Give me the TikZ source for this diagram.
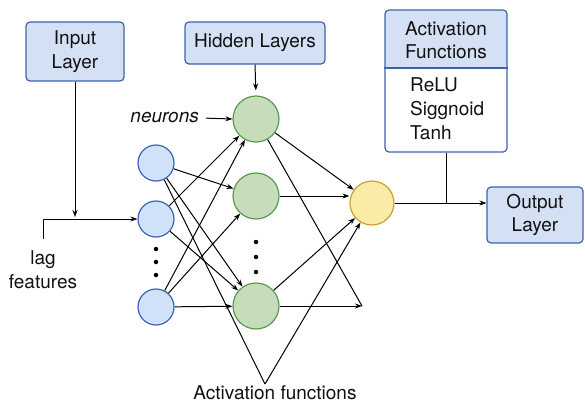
\documentclass[tikz,border=0pt]{standalone}
\usepackage{fontspec}
\setmainfont{TeX Gyre Heros}
\usetikzlibrary{arrows.meta,calc}
\definecolor{boxfill}{HTML}{D4E1F5}
\definecolor{boxline}{HTML}{3D63B0}
\definecolor{infill}{HTML}{CFE2F7}
\definecolor{inline}{HTML}{3A64B8}
\definecolor{hidfill}{HTML}{C6DDBC}
\definecolor{hidline}{HTML}{5B9950}
\definecolor{outfill}{HTML}{FAEBA6}
\definecolor{outline}{HTML}{CF9F2E}
\definecolor{txt}{HTML}{111111}
\begin{document}
\begin{tikzpicture}[x=1pt,y=-1pt,
  every node/.style={text=txt},
  font=\fontsize{19}{23.5}\selectfont,
  lbox/.style={draw=boxline, fill=boxfill, rounded corners=4pt, line width=1.2pt, align=center, inner sep=0pt},
  inneuron/.style={circle, draw=inline, fill=infill, line width=1.2pt, minimum size=36pt, inner sep=0pt},
  hidneuron/.style={circle, draw=hidline, fill=hidfill, line width=1.2pt, minimum size=46pt, inner sep=0pt},
  outneuron/.style={circle, draw=outline, fill=outfill, line width=1.2pt, minimum size=44pt, inner sep=0pt},
  conn/.style={line width=1pt, draw=black},
  arr/.style={conn, -{Stealth[length=7pt,width=5pt]}},
  vdot/.style={circle, fill=black, minimum size=4.5pt, inner sep=0pt}
]
\useasboundingbox (0,0) rectangle (585,404);

% boxes
\node[lbox, minimum width=98pt, minimum height=59pt] (inbox) at (75,51.5) {Input\\Layer};
\node[lbox, minimum width=140pt, minimum height=42pt] (hidbox) at (255,43) {Hidden Layers};
\node[lbox, minimum width=96pt, minimum height=56pt] (outbox) at (535,215) {Output\\Layer};

% activation functions box
\begin{scope}
  \clip (385,10) rectangle (507,68);
  \fill[boxfill, rounded corners=4pt] (385,10) rectangle (507,152);
\end{scope}
\node[draw=boxline, line width=1.2pt, rounded corners=4pt, minimum width=122pt, minimum height=142pt, inner sep=0pt] (act) at (446,81) {};
\draw[boxline, line width=1.2pt] (act.west |- 0,68) -- (act.east |- 0,68);
\node[align=center, inner sep=0pt] (acttitle) at (446,40) {Activation\\Functions};
\node[align=left, anchor=west, inner sep=0pt, font=\fontsize{19}{24}\selectfont] (actlist) at (410,109) {ReLU\\Siggnoid\\Tanh};

% neurons
\node[inneuron] (I1) at (156,163) {};
\node[inneuron] (I2) at (156,219) {};
\node[inneuron] (I3) at (156,307) {};
\node[hidneuron] (H1) at (256,119) {};
\node[hidneuron] (H2) at (256,196) {};
\node[hidneuron] (H3) at (256,306) {};
\node[outneuron] (out) at (372,203) {};

% dots
\node[vdot] (d1) at (156,249) {};
\node[vdot] (d2) at (156,262) {};
\node[vdot] (d3) at (156,275) {};
\node[vdot] (e1) at (256,242) {};
\node[vdot] (e2) at (256,257) {};
\node[vdot] (e3) at (256,272) {};

% labels
\node[font=\fontsize{19}{23.5}\selectfont\itshape, anchor=east, inner sep=2pt] (neu) at (201,118) {neurons};
\node[align=center, inner sep=0pt, font=\fontsize{19}{24}\selectfont] (lag) at (43,270) {lag\\features};
\node[inner sep=0pt] (aftext) at (275,393) {Activation functions};

% helper points
\coordinate (L0) at (43,239);
\coordinate (L1) at (43,219);
\coordinate (P) at (362,306);
\coordinate (A) at (265,384);
\coordinate (J) at (act.south |- out.east);

% input feed
\draw[arr] (L0) -- (L1) -- (I2.west);
\draw[arr, shorten >=2pt] (inbox.south) -- (inbox.south |- L1);
\draw[arr, shorten >=5pt] (hidbox.south) -- (H1.north);
\draw[arr, shorten <=5pt] (neu.east) -- (H1.west);

% input to hidden
\draw[arr] (I1) -- (H2);
\draw[arr] (I1) -- (H3);
\draw[conn] (I1) -- (A);
\draw[arr] (I2) -- (H1);
\draw[arr] (I2) -- (H3);
\draw[arr] (I3) -- (H1);
\draw[arr] (I3) -- (H2);
\draw[arr] (I3) -- (H3);

% hidden to output
\draw[arr] (H1) -- (out);
\draw[conn] (H1) -- (P);
\draw[arr] (H2.east) -- (H2.east -| out.west);
\draw[arr] (H3) -- (out);
\draw[arr] (H3.east) -- (P);
\draw[arr] (A) -- (out);

% output
\draw[arr] (out.east) -- (out.east -| outbox.west);
\draw[conn] (act.south) -- (J);
\end{tikzpicture}
\end{document}
